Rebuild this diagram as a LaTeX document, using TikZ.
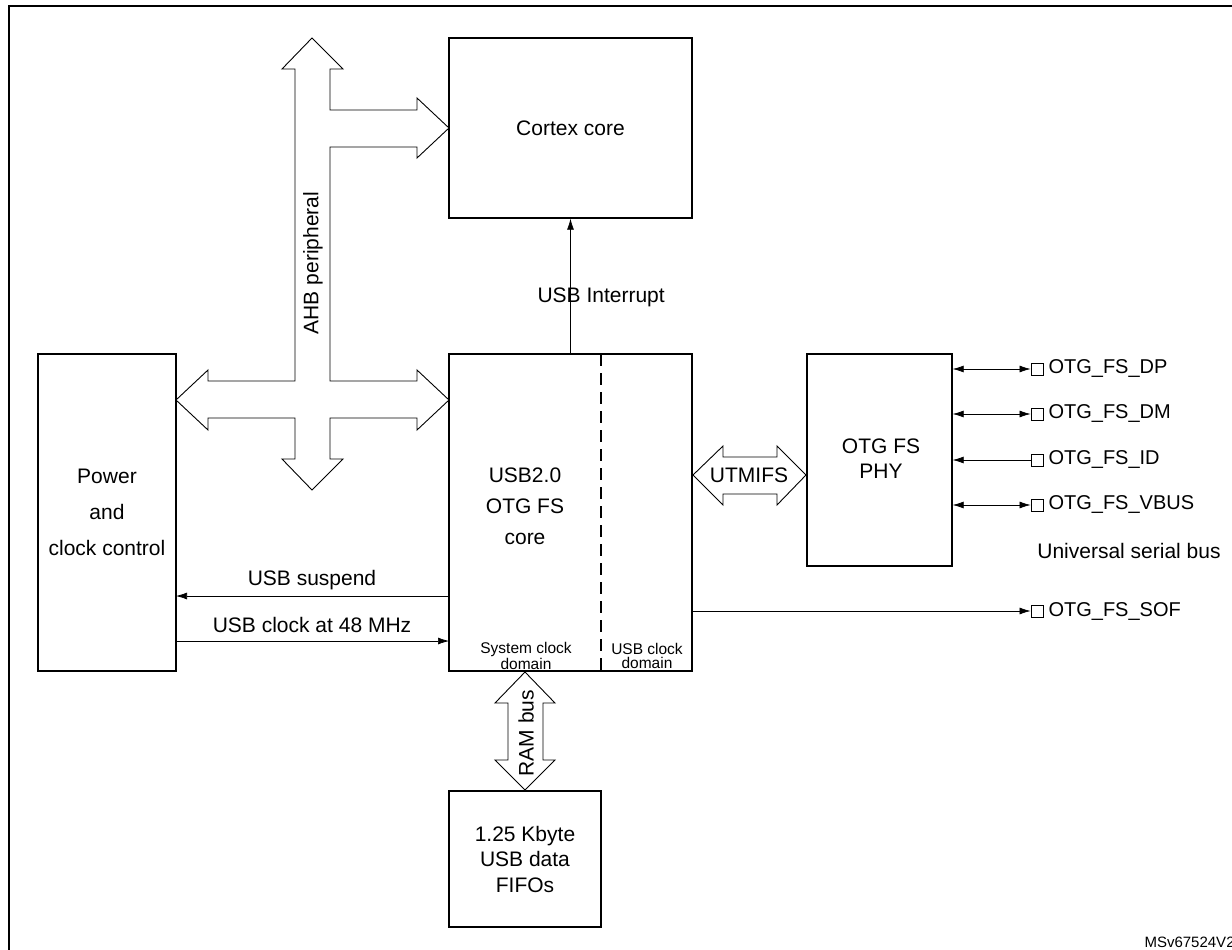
\documentclass[tikz,border=0pt]{standalone}
\usepackage{fontspec}
\setmainfont{Liberation Sans}
\usetikzlibrary{arrows.meta}
\begin{document}
\begin{tikzpicture}[x=1pt,y=-1pt,
  box/.style={draw,line width=1.4pt,inner sep=0pt,align=center,font=\fontsize{21}{30}\selectfont},
  sig/.style={line width=0.7pt},
  tip/.style={-{Latex[length=11pt,width=7pt]}},
  both/.style={{Latex[length=11pt,width=7pt]}-{Latex[length=11pt,width=7pt]}},
  pin/.style={draw,line width=0.9pt,minimum size=12pt,inner sep=0pt},
  pinlbl/.style={anchor=west,font=\fontsize{20}{24}\selectfont},
  lbl/.style={font=\fontsize{21}{24}\selectfont},
  bus/.style={draw,line width=0.9pt,fill=white}]
\useasboundingbox (0,0) rectangle (1232,950);
\draw[line width=1.6pt] (9,960) -- (9,6) -- (1240,6);
% boxes
\node[box,minimum width=243pt,minimum height=180pt] (cortex) at (570.5,128) {Cortex core};
\node[box,minimum width=243pt,minimum height=317pt] (core) at (570.5,512.5) {};
\node[box,minimum width=138pt,minimum height=317pt,font=\fontsize{21}{36}\selectfont] (power) at (107,512.5) {Power\\and\\clock control};
\node[box,minimum width=145pt,minimum height=212pt] (phy) at (879.5,460) {};
\node[box,minimum width=152pt,minimum height=136pt,font=\fontsize{21}{25.5}\selectfont] (fifo) at (525,859) {1.25 Kbyte\\USB data\\FIFOs};
\node[lbl,align=center,font=\fontsize{21}{31}\selectfont] (coretxt) at (525,506) {USB2.0\\OTG FS\\core};
\node[lbl,align=center,font=\fontsize{21}{25}\selectfont] (phytxt) at (881,459) {OTG FS\\PHY};
\draw[line width=1.4pt,dash pattern=on 12pt off 7pt] (601,354) -- (601,671);
\node[align=center,font=\fontsize{15.5}{14}\selectfont] (sysclk) at (526,656) {System clock\\domain};
\node[align=center,font=\fontsize{15.5}{14}\selectfont] (usbclk) at (647,656) {USB clock\\domain};
% AHB bus
\draw[bus] (312,38) -- (343,69) -- (330,69) -- (330,110) -- (417,110) -- (417,98) -- (449,128) -- (417,158) -- (417,147) -- (330,147) -- (330,381) -- (417,381) -- (417,370) -- (449,400) -- (417,430) -- (417,418) -- (330,418) -- (330,459) -- (343,459) -- (312,490) -- (282,459) -- (295,459) -- (295,418) -- (208,418) -- (208,430) -- (176,400) -- (208,370) -- (208,381) -- (295,381) -- (295,69) -- (282,69) -- cycle;
\node[lbl,rotate=90] (ahb) at (313,263) {AHB peripheral};
% RAM bus
\draw[bus] (525,672) -- (555,703) -- (543,703) -- (543,760) -- (555,760) -- (525,790) -- (495,760) -- (508,760) -- (508,703) -- (495,703) -- cycle;
\node[lbl,rotate=90] (ram) at (526,733) {RAM bus};
% UTMIFS
\draw[bus] (693,475) -- (723,446) -- (723,457) -- (777,457) -- (777,446) -- (806,475) -- (777,505) -- (777,494) -- (723,494) -- (723,505) -- cycle;
\node[lbl] (utmi) at (749,475) {UTMIFS};
% interrupt
\draw[sig,tip] (core.north) -- (cortex.south);
\node[lbl,anchor=west] (irq) at (534,297) {USB Interrupt};
% suspend / clock
\coordinate (s1) at (449,596); \coordinate (s2) at (176,596);
\coordinate (c1) at (176,641); \coordinate (c2) at (449,641);
\draw[sig,tip] (s1) -- (s2);
\draw[sig,tip] (c1) -- (c2);
\node[lbl] (susp) at (312,580) {USB suspend};
\node[lbl] (clk) at (312,625) {USB clock at 48 MHz};
% pins
\foreach \n/\y/\t in {dp/369/OTG\_FS\_DP,dm/414/OTG\_FS\_DM,id/460/OTG\_FS\_ID,vb/505/OTG\_FS\_VBUS,sof/611/OTG\_FS\_SOF}{
  \node[pin] (p\n) at (1037,\y) {};
  \node[pinlbl] (l\n) at (1045,\y) {\t};
}
\draw[sig,both] (phy.east |- pdp) -- (pdp.west);
\draw[sig,both] (phy.east |- pdm) -- (pdm.west);
\draw[sig,tip] (pid.west) -- (phy.east |- pid);
\draw[sig,both] (phy.east |- pvb) -- (pvb.west);
\draw[sig,tip] (core.east |- psof) -- (psof.west);
\node[lbl] (usb) at (1129,551) {Universal serial bus};
\node[anchor=base west,font=\fontsize{15}{16}\selectfont] (ms) at (1141,947) {MSv67524V2};
\end{tikzpicture}
\end{document}
